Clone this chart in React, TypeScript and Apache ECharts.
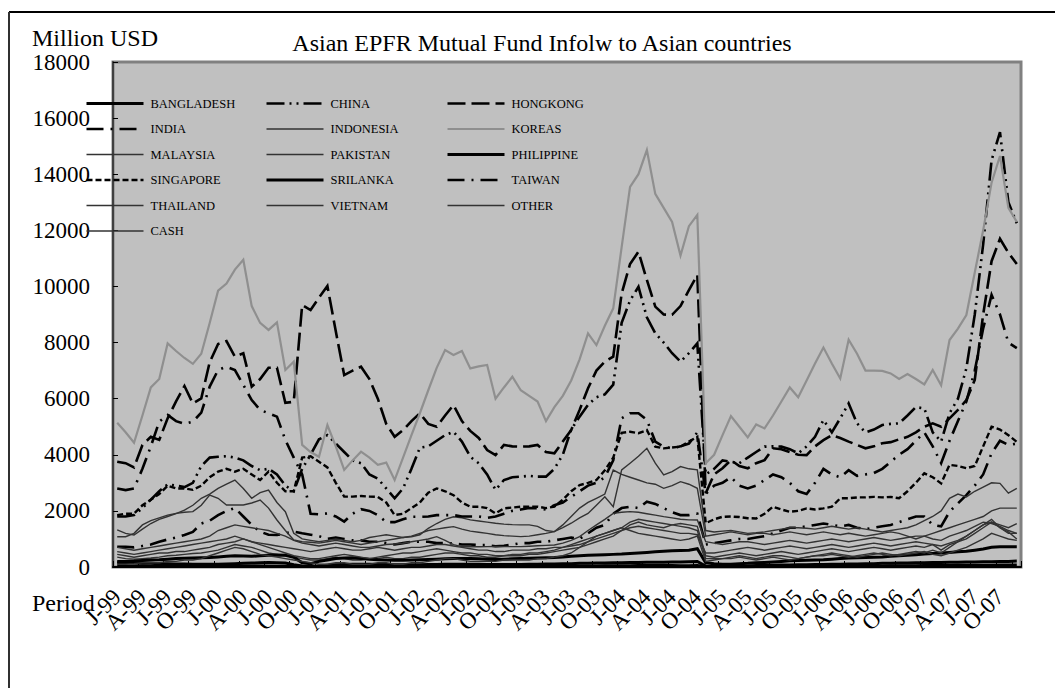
import React, { useEffect, useRef } from 'react';
import * as echarts from 'echarts';

const years = ['1999', '2000', '2001', '2002', '2003', '2004', '2005', '2006', '2007'];
const monthNums = ['01', '02', '03', '04', '05', '06', '07', '08', '09', '10', '11', '12'];
const categories: string[] = [];
years.forEach((y) => monthNums.forEach((m) => categories.push(`${y}-${m}`)));

const tickLabels = [
  'J-99', 'A-99', 'J-99', 'O-99', 'J-00', 'A-00', 'J-00', 'O-00', 'J-01', 'A-01', 'J-01', 'O-01',
  'J-02', 'A-02', 'J-02', 'O-02', 'J-03', 'A-03', 'J-03', 'O-03', 'J-04', 'A-04', 'J-04', 'O-04',
  'J-05', 'A-05', 'J-05', 'O-05', 'J-06', 'A-06', 'J-06', 'O-06', 'J-07', 'A-07', 'J-07', 'O-07',
];

const yTicks = [0, 2000, 4000, 6000, 8000, 10000, 12000, 14000, 16000, 18000];

const bangladesh = [
  30, 28, 30, 32, 30, 28, 30, 33, 35, 32, 30, 30,
  32, 35, 38, 36, 34, 32, 30, 28, 26, 20, 15, 15,
  18, 20, 22, 24, 25, 24, 22, 22, 24, 25, 26, 25,
  26, 28, 30, 30, 28, 27, 26, 25, 25, 24, 24, 25,
  25, 26, 27, 28, 30, 32, 34, 36, 38, 40, 42, 44,
  46, 48, 50, 52, 52, 50, 50, 48, 48, 50, 10, 8,
  8, 8, 10, 12, 14, 15, 16, 18, 20, 22, 24, 25,
  26, 28, 30, 32, 34, 36, 38, 40, 42, 44, 46, 48,
  50, 52, 54, 56, 58, 60, 62, 64, 66, 68, 70, 72,
];
const china = [
  1800, 1800, 1850, 2100, 2400, 2700, 2950, 2900, 2850, 3000, 3600, 3900,
  3930, 3950, 3900, 3800, 3600, 3450, 3500, 3300, 2900, 2700, 3500, 4000,
  4550, 4700, 4400, 4100, 3800, 3700, 3300, 3150, 2800, 2450, 2800, 3500,
  4250, 4300, 4500, 4700, 4820, 4470, 3930, 3700, 3300, 2750, 3100, 3200,
  3220, 3250, 3220, 3220, 3500, 4000, 4900, 5360, 5780, 6050, 6150, 6500,
  8700, 9500, 9990, 8900, 8330, 8000, 7620, 7320, 7620, 7970, 3300, 3500,
  3800, 3750, 3700, 3900, 4100, 4290, 4300, 4290, 4200, 4050, 4300, 4640,
  5240, 4800, 5300, 5830, 5120, 4800, 4900, 5060, 5100, 5120, 5400, 5700,
  5650, 4800, 4470, 5480, 6000, 7080, 9000, 11500, 14500, 15500, 13000, 12250,
];
const hongkong = [
  3750, 3700, 3550, 4350, 4640, 4530, 5300, 5900, 6450, 5830, 6010, 7300,
  7950, 8050, 7500, 7620, 6430, 6700, 7100, 7100, 5850, 5890, 9340, 9160,
  9600, 10015, 8400, 6840, 7000, 7140, 6700, 6000, 5100, 4640, 4880, 5200,
  5480, 5100, 5000, 5400, 5770, 5200, 4850, 4600, 4170, 3990, 4350, 4300,
  4290, 4300, 4350, 4100, 4050, 4470, 4880, 5600, 6370, 7000, 7320, 7500,
  9750, 10800, 11237, 10230, 9280, 9000, 8990, 9300, 9870, 10410, 2630, 3300,
  3520, 3810, 3600, 3520, 3700, 3810, 4230, 4200, 4100, 4000, 3990, 4300,
  4520, 4700, 4600, 4470, 4350, 4230, 4300, 4410, 4450, 4550, 4640, 4800,
  5000, 5120, 5000, 5300, 5600, 5950, 6665, 9000, 10900, 11700, 11200, 10800,
];
const india = [
  720, 720, 700, 750, 800, 900, 980, 1050, 1140, 1250, 1550, 1650,
  1850, 2000, 2100, 1800, 1500, 1260, 1150, 1140, 1200, 1260, 1200, 1150,
  1100, 1000, 1050, 1000, 950, 950, 900, 900, 850, 800, 850, 900,
  900, 900, 850, 850, 840, 800, 800, 780, 780, 740, 760, 800,
  850, 850, 900, 900, 950, 1000, 1050, 1000, 1200, 1400, 1500, 1900,
  2100, 2150, 2100, 2330, 2250, 2100, 1950, 1850, 1850, 1900, 800, 850,
  900, 950, 1000, 1000, 1050, 1100, 1200, 1300, 1400, 1400, 1450, 1500,
  1550, 1500, 1450, 1500, 1400, 1350, 1400, 1450, 1500, 1600, 1700, 1800,
  1800, 1500, 1450, 1970, 2270, 2560, 2900, 3300, 4050, 4500, 4350, 4400,
];
const indonesia = [
  1320, 1200, 1140, 1350, 1550, 1700, 1800, 1900, 2030, 2200, 2450, 2600,
  2800, 2950, 3100, 2800, 2450, 2650, 2740, 2300, 1970, 1200, 1000, 950,
  900, 950, 1000, 950, 900, 950, 1050, 1100, 1150, 1100, 1050, 1080,
  1150, 1380, 1550, 1700, 1790, 1750, 1680, 1640, 1600, 1560, 1530, 1510,
  1500, 1500, 1450, 1300, 1260, 1400, 1560, 1750, 1910, 2200, 2500, 2150,
  3460, 3700, 3950, 4230, 3700, 3280, 3400, 3580, 3500, 3460, 1300, 1250,
  1280, 1300, 1250, 1200, 1220, 1250, 1300, 1350, 1400, 1400, 1380, 1350,
  1400, 1450, 1400, 1350, 1400, 1350, 1300, 1250, 1300, 1350, 1400, 1500,
  1650, 1800, 2000, 2450, 2600, 2500, 2700, 2850, 3000, 2980, 2630, 2800,
];
const koreas = [
  5140, 4800, 4430, 5400, 6400, 6700, 7970, 7700, 7450, 7240, 7600, 8700,
  9850, 10100, 10600, 10950, 9300, 8700, 8450, 8720, 7020, 7320, 4350, 4100,
  3930, 5060, 4300, 3460, 3800, 4110, 3900, 3640, 3720, 3100, 3900, 4700,
  5480, 6300, 7100, 7730, 7560, 7700, 7080, 7150, 7200, 6000, 6400, 6780,
  6300, 6100, 5900, 5200, 5700, 6100, 6650, 7400, 8330, 7910, 8600, 9220,
  11400, 13550, 14000, 14860, 13300, 12800, 12300, 11100, 12150, 12550, 3700, 4000,
  4700, 5380, 5000, 4620, 5080, 4940, 5400, 5900, 6400, 6050, 6650, 7250,
  7820, 7250, 6720, 8100, 7600, 7000, 7000, 6990, 6900, 6700, 6880, 6700,
  6510, 7020, 6480, 8090, 8500, 8980, 10500, 12000, 13700, 14650, 12800, 12300,
];
const malaysia = [
  1080, 1080, 1200, 1500, 1650, 1750, 1850, 1913, 1950, 1972, 2200, 2566,
  2450, 2210, 2210, 2210, 2280, 2388, 2100, 1675, 1300, 962, 900, 880,
  850, 900, 950, 900, 850, 800, 850, 900, 950, 1000, 1050, 1100,
  1200, 1300, 1350, 1400, 1438, 1350, 1280, 1240, 1200, 1150, 1120, 1100,
  1081, 1100, 1150, 1200, 1260, 1500, 1800, 2100, 2300, 2448, 2600, 3457,
  3300, 3200, 3101, 3000, 2950, 2804, 2900, 3042, 2950, 2804, 1100, 1150,
  1200, 1250, 1200, 1150, 1200, 1200, 1150, 1200, 1250, 1200, 1150, 1200,
  1250, 1200, 1150, 1200, 1150, 1100, 1150, 1200, 1250, 1200, 1100, 1000,
  1100, 1200, 1300, 1400, 1500, 1600, 1700, 1800, 2000, 2100, 2100, 2100,
];
const pakistan = [
  350, 300, 280, 300, 320, 350, 400, 420, 450, 480, 500, 550,
  600, 700, 800, 750, 700, 600, 500, 450, 400, 350, 300, 250,
  250, 300, 350, 300, 250, 250, 300, 300, 350, 300, 300, 350,
  350, 400, 450, 500, 500, 450, 400, 400, 350, 350, 400, 400,
  400, 450, 450, 500, 550, 600, 650, 700, 800, 900, 1000, 1100,
  1300, 1500, 1600, 1500, 1450, 1400, 1500, 1550, 1500, 1450, 400, 350,
  400, 450, 500, 450, 400, 450, 500, 550, 500, 450, 500, 550,
  600, 650, 600, 550, 600, 650, 700, 650, 600, 650, 700, 750,
  700, 800, 600, 800, 900, 1000, 1200, 1400, 1600, 1500, 1400, 1550,
];
const philippine = [
  200, 200, 210, 230, 250, 260, 280, 300, 310, 320, 330, 340,
  360, 380, 400, 390, 380, 400, 420, 430, 420, 350, 150, 120,
  200, 250, 300, 320, 330, 300, 280, 260, 250, 240, 240, 250,
  260, 270, 280, 290, 300, 300, 300, 290, 280, 270, 280, 290,
  300, 310, 320, 330, 340, 360, 380, 400, 420, 430, 440, 450,
  460, 480, 500, 520, 540, 560, 580, 590, 600, 650, 150, 120,
  100, 100, 120, 130, 150, 160, 180, 200, 220, 230, 240, 250,
  260, 280, 300, 320, 330, 340, 350, 360, 380, 400, 420, 440,
  460, 480, 500, 520, 540, 560, 600, 640, 700, 720, 720, 720,
];
const singapore = [
  1850, 1900, 1900, 2200, 2400, 2600, 2900, 2800, 2800, 2750, 2900, 3200,
  3400, 3500, 3400, 3500, 3300, 3100, 3400, 3000, 2700, 2700, 3900, 3950,
  3750, 3550, 3000, 2510, 2510, 2530, 2510, 2500, 2300, 1850, 1900, 2100,
  2300, 2650, 2800, 2700, 2560, 2300, 2150, 2150, 2100, 1910, 2090, 2120,
  2150, 2150, 2150, 2100, 2150, 2400, 2700, 2920, 3000, 3100, 3450, 3900,
  4780, 4820, 4770, 4880, 4290, 4230, 4260, 4290, 4470, 4640, 1560, 1700,
  1790, 1800, 1780, 1740, 1730, 1900, 2150, 2050, 1970, 2000, 2090, 2050,
  2090, 2150, 2450, 2450, 2480, 2480, 2500, 2480, 2500, 2450, 2700, 3000,
  3340, 3200, 2980, 3640, 3600, 3520, 3600, 4300, 5000, 4900, 4700, 4460,
];
const srilanka = [
  150, 150, 140, 130, 130, 120, 120, 110, 110, 100, 100, 100,
  100, 110, 120, 130, 140, 150, 160, 150, 140, 80, 40, 30,
  40, 60, 80, 90, 100, 100, 100, 90, 90, 80, 80, 80,
  80, 90, 90, 100, 100, 100, 100, 100, 90, 90, 90, 90,
  90, 100, 100, 110, 110, 120, 120, 130, 130, 140, 140, 150,
  150, 160, 160, 170, 170, 170, 180, 180, 190, 200, 30, 20,
  20, 20, 30, 40, 50, 60, 60, 70, 70, 80, 80, 90,
  90, 100, 100, 110, 110, 120, 120, 130, 130, 140, 140, 150,
  150, 160, 160, 170, 170, 180, 180, 190, 190, 200, 200, 210,
];
const taiwan = [
  2800, 2740, 2800, 3500, 4300, 5180, 5420, 5200, 5100, 5180, 5500, 6430,
  7020, 7140, 7020, 6490, 5950, 5600, 5480, 5360, 4530, 3900, 3300, 1900,
  1880, 1910, 1800, 1620, 1900, 2060, 2000, 1850, 1600, 1600, 1700, 1790,
  1790, 1800, 1850, 1850, 1850, 1800, 1800, 1800, 1750, 1800, 1900, 2000,
  2050, 2100, 2100, 2050, 2200, 2300, 2500, 2700, 2900, 3000, 3200, 3800,
  5300, 5480, 5480, 5240, 4470, 4290, 4230, 4300, 4400, 4800, 2600, 2900,
  3000, 3200, 2900, 2800, 2900, 3100, 3300, 3200, 3000, 2700, 2600, 3000,
  3500, 3300, 3200, 3450, 3250, 3300, 3350, 3500, 3750, 4000, 4200, 4500,
  4800, 4300, 3700, 4500, 5200, 5900, 7000, 8500, 9700, 9000, 8000, 7800,
];
const thailand = [
  700, 650, 600, 650, 700, 750, 800, 850, 900, 950, 1000, 1100,
  1300, 1400, 1500, 1450, 1400, 1350, 1300, 1200, 1100, 950, 850, 800,
  750, 800, 850, 800, 750, 700, 700, 750, 800, 820, 845, 900,
  950, 1000, 1081, 950, 800, 725, 720, 720, 725, 730, 725, 725,
  725, 740, 760, 770, 785, 850, 950, 1081, 1300, 1500, 1700, 1913,
  1950, 1973, 1950, 1900, 1850, 1794, 1750, 1700, 1680, 1676, 900, 850,
  800, 850, 900, 900, 850, 800, 850, 900, 950, 900, 850, 900,
  950, 1000, 950, 900, 950, 1000, 1050, 1000, 950, 1000, 1050, 1100,
  1100, 1000, 950, 1100, 1200, 1300, 1450, 1600, 1550, 1450, 1300, 1200,
];
const vietnam = [
  100, 100, 120, 150, 150, 150, 200, 200, 250, 250, 300, 400,
  500, 600, 700, 650, 550, 450, 400, 350, 300, 250, 200, 150,
  100, 100, 150, 150, 100, 100, 100, 150, 150, 100, 100, 150,
  150, 200, 250, 300, 300, 250, 200, 200, 200, 200, 250, 250,
  250, 250, 300, 300, 350, 400, 500, 700, 900, 1100, 1200, 1300,
  1400, 1600, 1700, 1650, 1600, 1550, 1500, 1450, 1400, 1300, 300, 300,
  300, 350, 400, 350, 300, 350, 400, 400, 350, 300, 350, 400,
  400, 450, 400, 350, 400, 450, 500, 450, 400, 450, 500, 550,
  500, 600, 500, 700, 900, 1100, 1300, 1500, 1700, 1400, 1200, 1200,
];
const other = [
  550, 500, 450, 500, 550, 600, 650, 700, 750, 800, 850, 900,
  950, 1000, 1100, 1000, 900, 850, 800, 750, 700, 650, 600, 550,
  600, 650, 700, 650, 600, 600, 650, 700, 650, 600, 650, 700,
  700, 750, 800, 800, 750, 700, 650, 600, 600, 550, 550, 600,
  600, 600, 650, 650, 700, 700, 750, 800, 900, 1000, 1100, 1200,
  1300, 1400, 1450, 1400, 1350, 1300, 1250, 1200, 1200, 1150, 500, 500,
  550, 600, 650, 700, 650, 600, 650, 700, 750, 700, 650, 700,
  750, 800, 750, 700, 750, 800, 850, 800, 750, 800, 850, 900,
  850, 800, 750, 850, 950, 1100, 1300, 1500, 1600, 1400, 1250, 1000,
];
const cash = [
  450, 400, 350, 400, 450, 500, 500, 550, 550, 600, 650, 700,
  800, 850, 900, 1000, 900, 800, 700, 600, 500, 400, 350, 300,
  300, 350, 400, 450, 400, 350, 300, 350, 400, 450, 500, 500,
  550, 600, 650, 600, 550, 500, 500, 450, 450, 400, 400, 450,
  450, 500, 500, 550, 600, 700, 800, 900, 1000, 1100, 1200, 1300,
  1400, 1300, 1200, 1150, 1100, 1050, 1000, 950, 1000, 1100, 200, 250,
  300, 300, 350, 300, 250, 300, 350, 300, 250, 300, 350, 400,
  450, 500, 450, 400, 350, 400, 450, 500, 450, 400, 450, 500,
  550, 450, 400, 500, 600, 700, 850, 1000, 1200, 1100, 1000, 950,
];

const seriesNames = [
  'BANGLADESH', 'CHINA', 'HONGKONG', 'INDIA', 'INDONESIA', 'KOREAS', 'MALAYSIA', 'PAKISTAN',
  'PHILIPPINE', 'SINGAPORE', 'SRILANKA', 'TAIWAN', 'THAILAND', 'VIETNAM', 'OTHER', 'CASH',
];
const seriesData: Record<string, number[]> = {
  BANGLADESH: bangladesh, CHINA: china, HONGKONG: hongkong, INDIA: india, INDONESIA: indonesia,
  KOREAS: koreas, MALAYSIA: malaysia, PAKISTAN: pakistan, PHILIPPINE: philippine,
  SINGAPORE: singapore, SRILANKA: srilanka, TAIWAN: taiwan, THAILAND: thailand,
  VIETNAM: vietnam, OTHER: other, CASH: cash,
};

const thin = { color: '#333333', width: 1.4, type: 'solid' as any };
const lineStyles: Record<string, { color: string; width: number; type: any }> = {
  BANGLADESH: { color: '#000000', width: 3, type: 'solid' },
  CHINA: { color: '#000000', width: 2.6, type: [18, 5, 2, 5, 2, 5] },
  HONGKONG: { color: '#000000', width: 2.6, type: [18, 6] },
  INDIA: { color: '#000000', width: 2.6, type: [17, 7, 2, 7] },
  INDONESIA: thin,
  KOREAS: { color: '#8f8f8f', width: 2.2, type: 'solid' },
  MALAYSIA: thin,
  PAKISTAN: thin,
  PHILIPPINE: { color: '#000000', width: 3, type: 'solid' },
  SINGAPORE: { color: '#000000', width: 2.4, type: [6, 3] },
  SRILANKA: { color: '#000000', width: 3, type: 'solid' },
  TAIWAN: { color: '#000000', width: 2.6, type: [17, 7, 2, 7] },
  THAILAND: thin,
  VIETNAM: thin,
  OTHER: thin,
  CASH: thin,
};

const legendCols = [
  ['BANGLADESH', 'INDIA', 'MALAYSIA', 'SINGAPORE', 'THAILAND', 'CASH'],
  ['CHINA', 'INDONESIA', 'PAKISTAN', 'SRILANKA', 'VIETNAM'],
  ['HONGKONG', 'KOREAS', 'PHILIPPINE', 'TAIWAN', 'OTHER'],
];
const legendLefts = [85, 265, 446];

const SERIF = '"Liberation Serif", "Times New Roman", Times, serif';

const xLabelBase = {
  rotate: 45,
  margin: 26,
  fontSize: 23,
  fontFamily: SERIF,
  color: '#000',
  hideOverlap: false,
};

export default function App() {
  const ref = useRef<HTMLDivElement>(null);
  useEffect(() => {
    if (!ref.current) return;
    const chart = echarts.init(ref.current, undefined, { renderer: 'svg' });
    const option: any = {
      animation: false,
      backgroundColor: '#ffffff',
      textStyle: { fontFamily: SERIF },
      grid: {
        left: 113, top: 62, right: 34, bottom: 121,
        show: true, backgroundColor: '#c0c0c0', borderColor: '#808080', borderWidth: 3,
        containLabel: false,
      },
      legend: legendCols.map((col, k) => ({
        data: col,
        orient: 'vertical',
        left: legendLefts[k],
        top: 97,
        itemWidth: 57,
        itemHeight: 14,
        itemGap: 12.5,
        padding: 0,
        selectedMode: false,
        itemStyle: { opacity: 0 },
        lineStyle: { width: 'inherit', type: 'inherit' },
        textStyle: { fontFamily: SERIF, fontSize: 12.5, color: '#000', padding: [0, 0, 0, 2] },
      })),
      xAxis: [
        {
          type: 'category',
          data: categories,
          position: 'bottom',
          boundaryGap: true,
          axisLine: { show: true, lineStyle: { color: '#000', width: 2 } },
          axisTick: { show: true, inside: true, length: 6, interval: 2, lineStyle: { color: '#000', width: 1 } },
          axisLabel: {
            ...xLabelBase,
            interval: 2,
            showMinLabel: false,
            showMaxLabel: true,
            formatter: (_v: string, idx: number) => (idx % 3 === 0 ? tickLabels[idx / 3] : ''),
          },
          splitLine: { show: false },
        },
        {
          type: 'category',
          data: categories,
          position: 'bottom',
          boundaryGap: true,
          axisLine: { show: false },
          axisTick: { show: false },
          axisLabel: {
            ...xLabelBase,
            interval: (idx: number) => idx === 0,
            showMinLabel: true,
            showMaxLabel: false,
            formatter: (_v: string, idx: number) => (idx === 0 ? tickLabels[0] : ''),
          },
          splitLine: { show: false },
        },
      ],
      yAxis: {
        type: 'value',
        min: yTicks[0],
        max: yTicks[yTicks.length - 1],
        interval: 2000,
        axisLine: { show: true, lineStyle: { color: '#404040', width: 2 } },
        axisTick: { show: true, inside: true, length: 5, lineStyle: { color: '#000' } },
        axisLabel: {
          fontSize: 23, lineHeight: 18, fontFamily: SERIF, color: '#000', margin: 23,
          formatter: (v: number) => String(v),
        },
        splitLine: { show: false },
      },
      graphic: [
        { type: 'line', shape: { x1: 9, y1: 12, x2: 1055, y2: 12 }, style: { stroke: '#000', lineWidth: 2 }, silent: true },
        { type: 'line', shape: { x1: 9, y1: 12, x2: 9, y2: 688 }, style: { stroke: '#303030', lineWidth: 2 }, silent: true },
        {
          type: 'text', x: 32, y: 38, silent: true,
          style: { text: 'Million USD', font: `24px ${SERIF}`, fill: '#000', align: 'left', verticalAlign: 'middle' },
        },
        {
          type: 'text', x: 542, y: 43, silent: true,
          style: { text: 'Asian EPFR Mutual Fund Infolw to Asian countries', font: `24px ${SERIF}`, fill: '#000', align: 'center', verticalAlign: 'middle' },
        },
        {
          type: 'text', x: 32, y: 603, silent: true,
          style: { text: 'Period', font: `24px ${SERIF}`, fill: '#000', align: 'left', verticalAlign: 'middle' },
        },
      ],
      series: seriesNames.map((name) => ({
        name,
        type: 'line',
        xAxisIndex: 0,
        data: seriesData[name],
        symbol: 'none',
        showSymbol: false,
        color: lineStyles[name].color,
        lineStyle: { ...lineStyles[name], cap: 'butt', join: 'miter' },
        silent: true,
        emphasis: { disabled: true },
      })),
    };
    chart.setOption(option);
    return () => chart.dispose();
  }, []);
  return <div ref={ref} style={{ position: 'fixed', left: 0, top: 0, width: 1055, height: 688 }} />;
}
